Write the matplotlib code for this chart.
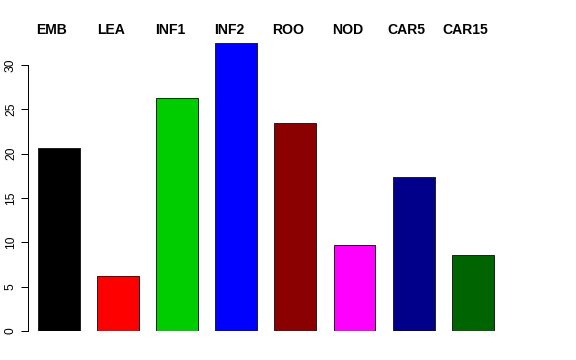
import matplotlib
matplotlib.use("Agg")
import matplotlib.pyplot as plt
import numpy as np

categories = ["EMB", "LEA", "INF1", "INF2", "ROO", "NOD", "CAR5", "CAR15"]
values = [20.6, 6.2, 26.3, 32.5, 23.4, 9.7, 17.35, 8.55]
colors = ["#000000", "#FF0000", "#00CD00", "#0000FF", "#8B0000", "#FF00FF", "#00008B", "#006400"]
yticks = [0, 5, 10, 15, 20, 25, 30]

plt.rcParams['font.family'] = ['Liberation Sans', 'DejaVu Sans']

fig = plt.figure(figsize=(8, 5), dpi=72)
W, H = 576, 360
left_px, right_px = 28, 560
bottom_px = 331
ymax = 33.0
px_per_unit = 8.87
height_px = ymax * px_per_unit
ax = fig.add_axes([left_px / W, (H - bottom_px) / H, (right_px - left_px) / W, height_px / H])

x = np.arange(len(categories))
spacing_px = 59.1
center0_px = 59
ax.bar(x, values, width=0.71, color=colors, edgecolor="#222222", linewidth=1.0)
ax.set_xlim((left_px - center0_px) / spacing_px, (right_px - center0_px) / spacing_px)
ax.set_ylim(0, ymax)

for s in ["top", "right", "bottom"]:
    ax.spines[s].set_visible(False)
ax.spines["left"].set_bounds(0, 30)
ax.spines["left"].set_linewidth(1.0)
ax.set_xticks([])
ax.set_yticks(yticks)
ax.set_yticklabels([str(t) for t in yticks], rotation=90, va="center", fontsize=12)
ax.tick_params(axis="y", length=7, width=1.0, pad=4)

for xi, cat in zip(x, categories):
    ax.text(xi - 0.12, 1 - 29.5 / H, cat, transform=ax.get_xaxis_transform() if False else
            matplotlib.transforms.blended_transform_factory(ax.transData, fig.transFigure),
            ha="center", va="center", fontsize=14, fontweight="bold")

fig.savefig("out.png", dpi=72)
